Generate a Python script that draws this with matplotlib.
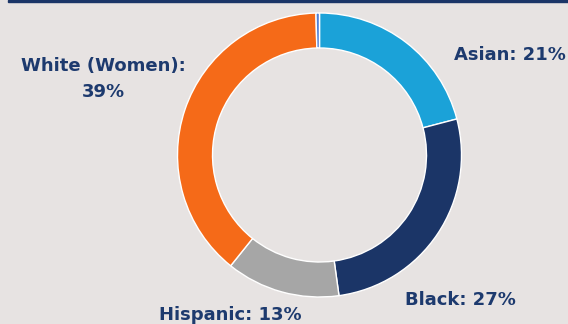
import matplotlib
matplotlib.use("Agg")
import matplotlib.pyplot as plt
from matplotlib.patches import Rectangle

# Data
categories = ["Asian", "Black", "Hispanic", "White (Women)", "Other"]
values = [21, 27, 13, 39, 0.4]
labels = ["Asian: 21%", "Black: 27%", "Hispanic: 13%", "White (Women):\n39%", ""]

colors = ["#1ba2d8", "#1b3567", "#a6a6a6", "#f56a18", "#4f7fd6"]
bg = "#e7e3e2"
navy = "#1d3a6e"

W, H = 568, 324
fig = plt.figure(figsize=(W / 100, H / 100), dpi=100, facecolor=bg)
ax = fig.add_axes([0, 0, 1, 1])
ax.set_facecolor(bg)

cx, cy = 319.5, H - 155
R = 142
ax.pie(values, colors=colors, startangle=90, counterclock=False,
       center=(cx, cy), radius=R, frame=True,
       wedgeprops=dict(width=35, edgecolor="white", linewidth=1.0))
ax.set_xlim(0, W)
ax.set_ylim(0, H)
ax.set_aspect("equal")
ax.axis("off")

# top rule
ax.add_patch(Rectangle((8, H - 2), W - 8, 2, color="#1b3567", clip_on=False))

font = dict(family=["DejaVu Sans"], fontweight="bold", color=navy, fontsize=13)
ax.text(510, H - 55, labels[0], ha="center", va="center", **font)
ax.text(460, H - 300, labels[1], ha="center", va="center", **font)
ax.text(230.5, H - 319.5, labels[2], ha="center", va="baseline", **font)
ax.text(103, H - 79, labels[3], ha="center", va="center", linespacing=1.55, **font)

fig.savefig("out.png", dpi=100, facecolor=bg)
